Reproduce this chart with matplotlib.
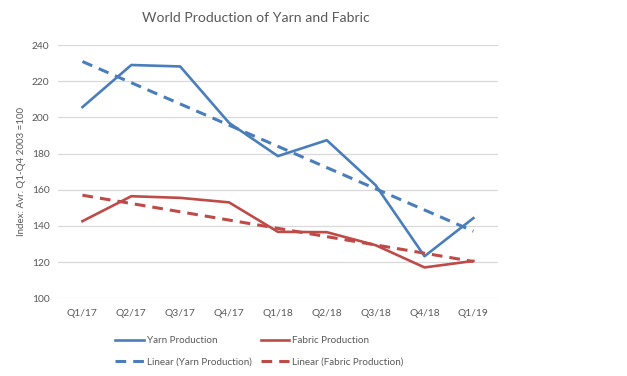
import numpy as np
import matplotlib
matplotlib.use("Agg")
import matplotlib.pyplot as plt

# Data
quarters = ["Q1/17", "Q2/17", "Q3/17", "Q4/17", "Q1/18", "Q2/18", "Q3/18", "Q4/18", "Q1/19"]
yarn = [205.7, 229.0, 228.2, 197.0, 178.6, 187.4, 162.5, 123.2, 144.3]
fabric = [142.6, 156.4, 155.5, 153.0, 136.7, 136.5, 129.3, 117.0, 120.6]

blue = "#4a7ebb"
red = "#be4b48"
text_col = "#595959"

plt.rcParams["font.family"] = ["Lato", "DejaVu Sans"]

# Linear trend lines (least squares, as in the spreadsheet)
x = np.arange(len(quarters))
yarn_fit = np.polyval(np.polyfit(x, yarn, 1), x)
fabric_fit = np.polyval(np.polyfit(x, fabric, 1), x)

fig = plt.figure(figsize=(6.27, 3.76), dpi=100)
ax = fig.add_axes([0.0925, 0.207, 0.7015, 0.673])

l1, = ax.plot(x, yarn, color=blue, lw=1.9, label="Yarn Production")
l2, = ax.plot(x, fabric, color=red, lw=1.9, label="Fabric Production")
l3, = ax.plot(x, yarn_fit, color=blue, lw=2.2, dashes=(3.5, 2.3), label="Linear (Yarn Production)")
l4, = ax.plot(x, fabric_fit, color=red, lw=2.2, dashes=(3.5, 2.3), label="Linear (Fabric Production)")

ax.set_xlim(-0.5, len(quarters) - 0.5)
ax.set_ylim(100, 240)
ax.set_yticks(range(100, 241, 20))
ax.set_xticks(x)
ax.set_xticklabels(quarters)
ax.tick_params(length=0, labelsize=7.4, colors=text_col)
ax.tick_params(axis="x", pad=8)
ax.tick_params(axis="y", pad=6)
ax.grid(axis="y", color="#d9d9d9", lw=0.9)
ax.set_axisbelow(True)
for s in ax.spines.values():
    s.set_visible(False)

ax.set_ylabel("Index: Avr. Q1-Q4 2003 =100", fontsize=7, color=text_col, labelpad=4)
fig.text(0.408, 0.952, "World Production of Yarn and Fabric", ha="center", va="center",
         fontsize=10.1, color=text_col)

fig.legend(handles=[l1, l3, l2, l4], ncol=2, loc="center", bbox_to_anchor=(0.414, 0.066),
           frameon=False, fontsize=7.1, labelcolor=text_col, handlelength=2.9,
           handletextpad=0.3, columnspacing=0.9, labelspacing=1.2)

fig.savefig("out.png", dpi=100)
